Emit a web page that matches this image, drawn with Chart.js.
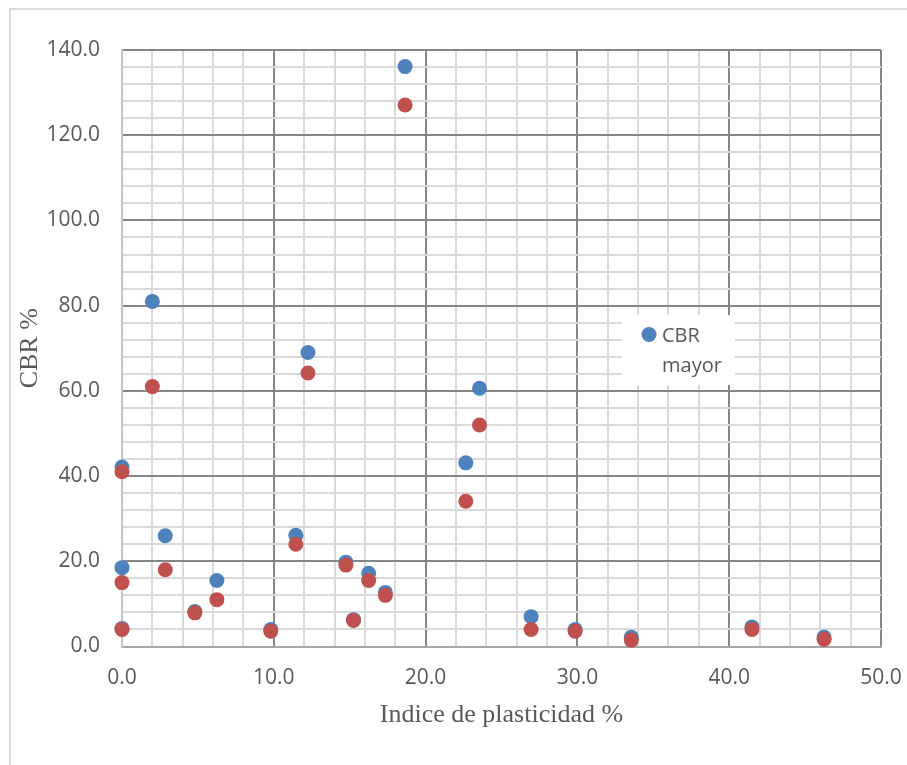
<!DOCTYPE html>
<html>
<head>
<meta charset="utf-8">
<script src="https://cdn.jsdelivr.net/npm/chart.js@4"></script>
<style>
  html, body { margin: 0; padding: 0; background: #ffffff; }
  #wrap { width: 907px; height: 765px; }
</style>
</head>
<body>
<div id="wrap"><canvas id="chart" width="907" height="765"></canvas></div>
<script>
// Índice de plasticidad (%) of each sample
const indicePlasticidad = [0, 0, 0, 2.0, 2.85, 4.8, 6.25, 9.8, 11.45, 12.25, 14.75, 15.25, 16.25, 17.35, 18.65, 22.65, 23.55, 26.95, 29.85, 33.55, 41.5, 46.25];
// CBR mayor (%)
const cbrMayor = [42.1, 18.5, 4.2, 81.0, 26.0, 8.2, 15.5, 4.0, 26.1, 69.0, 19.8, 6.3, 17.2, 12.7, 136.1, 43.1, 60.6, 7.0, 4.0, 2.2, 4.6, 2.2];
// CBR menor (%)
const cbrMenor = [41.0, 15.0, 4.0, 61.0, 18.0, 7.9, 11.0, 3.6, 24.0, 64.2, 19.1, 6.1, 15.5, 12.0, 127.1, 34.1, 52.0, 4.0, 3.6, 1.5, 4.0, 1.7];

// labelled (major) ticks
const xMajorTicks = [0, 10, 20, 30, 40, 50];
const yMajorTicks = [0, 20, 40, 60, 80, 100, 120, 140];

const BLUE = '#4F81BD';
const RED = '#C0504D';
const MAJOR = '#868686';
const MINOR = '#D9D9D9';
const TEXT = '#595959';

const toPoints = (xs, ys) => xs.map((x, i) => ({ x: x, y: ys[i] }));

// white background + light outer frame
const frame = {
  id: 'frame',
  beforeDraw(chart) {
    const ctx = chart.ctx;
    ctx.save();
    ctx.fillStyle = '#ffffff';
    ctx.fillRect(0, 0, chart.width, chart.height);
    ctx.strokeStyle = '#D9D9D9';
    ctx.lineWidth = 2;
    ctx.strokeRect(10, 9, chart.width + 20, chart.height + 20);
    ctx.restore();
  }
};

// boxed legend inside the plot area
const innerLegend = {
  id: 'innerLegend',
  afterDatasetsDraw(chart) {
    const ctx = chart.ctx;
    const ds = chart.data.datasets[0];
    const a = chart.chartArea;
    const bx = a.left + 500, by = a.top + 265, bw = 113, bh = 70;
    ctx.save();
    ctx.fillStyle = '#ffffff';
    ctx.fillRect(bx, by, bw, bh);
    ctx.fillStyle = ds.backgroundColor;
    ctx.beginPath();
    ctx.arc(bx + 27, by + 19.5, 7.5, 0, Math.PI * 2);
    ctx.fill();
    ctx.fillStyle = TEXT;
    ctx.font = '20px "Open Sans"';
    ctx.textBaseline = 'alphabetic';
    ctx.textAlign = 'left';
    const words = ds.label.split(' ');
    ctx.fillText(words[0], bx + 40, by + 27);
    ctx.fillText(words.slice(1).join(' '), bx + 40, by + 57);
    ctx.restore();
  }
};

const gridColor = majors => ctx => majors.includes(ctx.tick.value) ? MAJOR : MINOR;

new Chart(document.getElementById('chart'), {
  type: 'scatter',
  data: {
    datasets: [
      {
        label: 'CBR mayor',
        data: toPoints(indicePlasticidad, cbrMayor),
        backgroundColor: BLUE,
        borderColor: BLUE,
        borderWidth: 0,
        pointRadius: 7.5,
        clip: false,
        order: 2
      },
      {
        label: 'CBR menor',
        data: toPoints(indicePlasticidad, cbrMenor),
        backgroundColor: RED,
        borderColor: RED,
        borderWidth: 0,
        pointRadius: 7.5,
        clip: false,
        order: 1
      }
    ]
  },
  options: {
    responsive: false,
    animation: false,
    layout: { padding: { top: 50, right: 26, bottom: 0, left: 0 } },
    plugins: {
      legend: { display: false },
      tooltip: { enabled: false }
    },
    scales: {
      x: {
        type: 'linear',
        min: 0,
        max: 50,
        ticks: {
          stepSize: 2,
          padding: 19,
          color: TEXT,
          font: { family: 'Open Sans', size: 21 },
          maxRotation: 0,
          autoSkip: false,
          callback: v => xMajorTicks.includes(v) ? v.toFixed(1) : ''
        },
        grid: { color: gridColor(xMajorTicks), lineWidth: 2, drawTicks: false },
        border: { color: '#A6A6A6', width: 2 },
        title: {
          display: true,
          text: 'Indice de plasticidad %',
          color: TEXT,
          font: { family: 'Liberation Serif', size: 26 },
          padding: 34
        },
        afterFit(scale) {
          scale.height = 118.5;
          scale.paddingLeft = 0;
          scale.paddingRight = 0;
        }
      },
      y: {
        type: 'linear',
        min: 0,
        max: 140,
        ticks: {
          stepSize: 4,
          padding: 22,
          color: TEXT,
          font: { family: 'Open Sans', size: 21 },
          autoSkip: false,
          callback: v => yMajorTicks.includes(v) ? v.toFixed(1) : ''
        },
        grid: { color: gridColor(yMajorTicks), lineWidth: 2, drawTicks: false },
        border: { color: '#C4C4C4', width: 2 },
        title: {
          display: true,
          text: 'CBR %',
          color: TEXT,
          font: { family: 'Liberation Serif', size: 26 },
          padding: 15
        },
        afterFit(scale) {
          scale.width = 122;
          scale.paddingTop = 0;
          scale.paddingBottom = 0;
        }
      }
    }
  },
  plugins: [frame, innerLegend]
});
</script>
</body>
</html>
